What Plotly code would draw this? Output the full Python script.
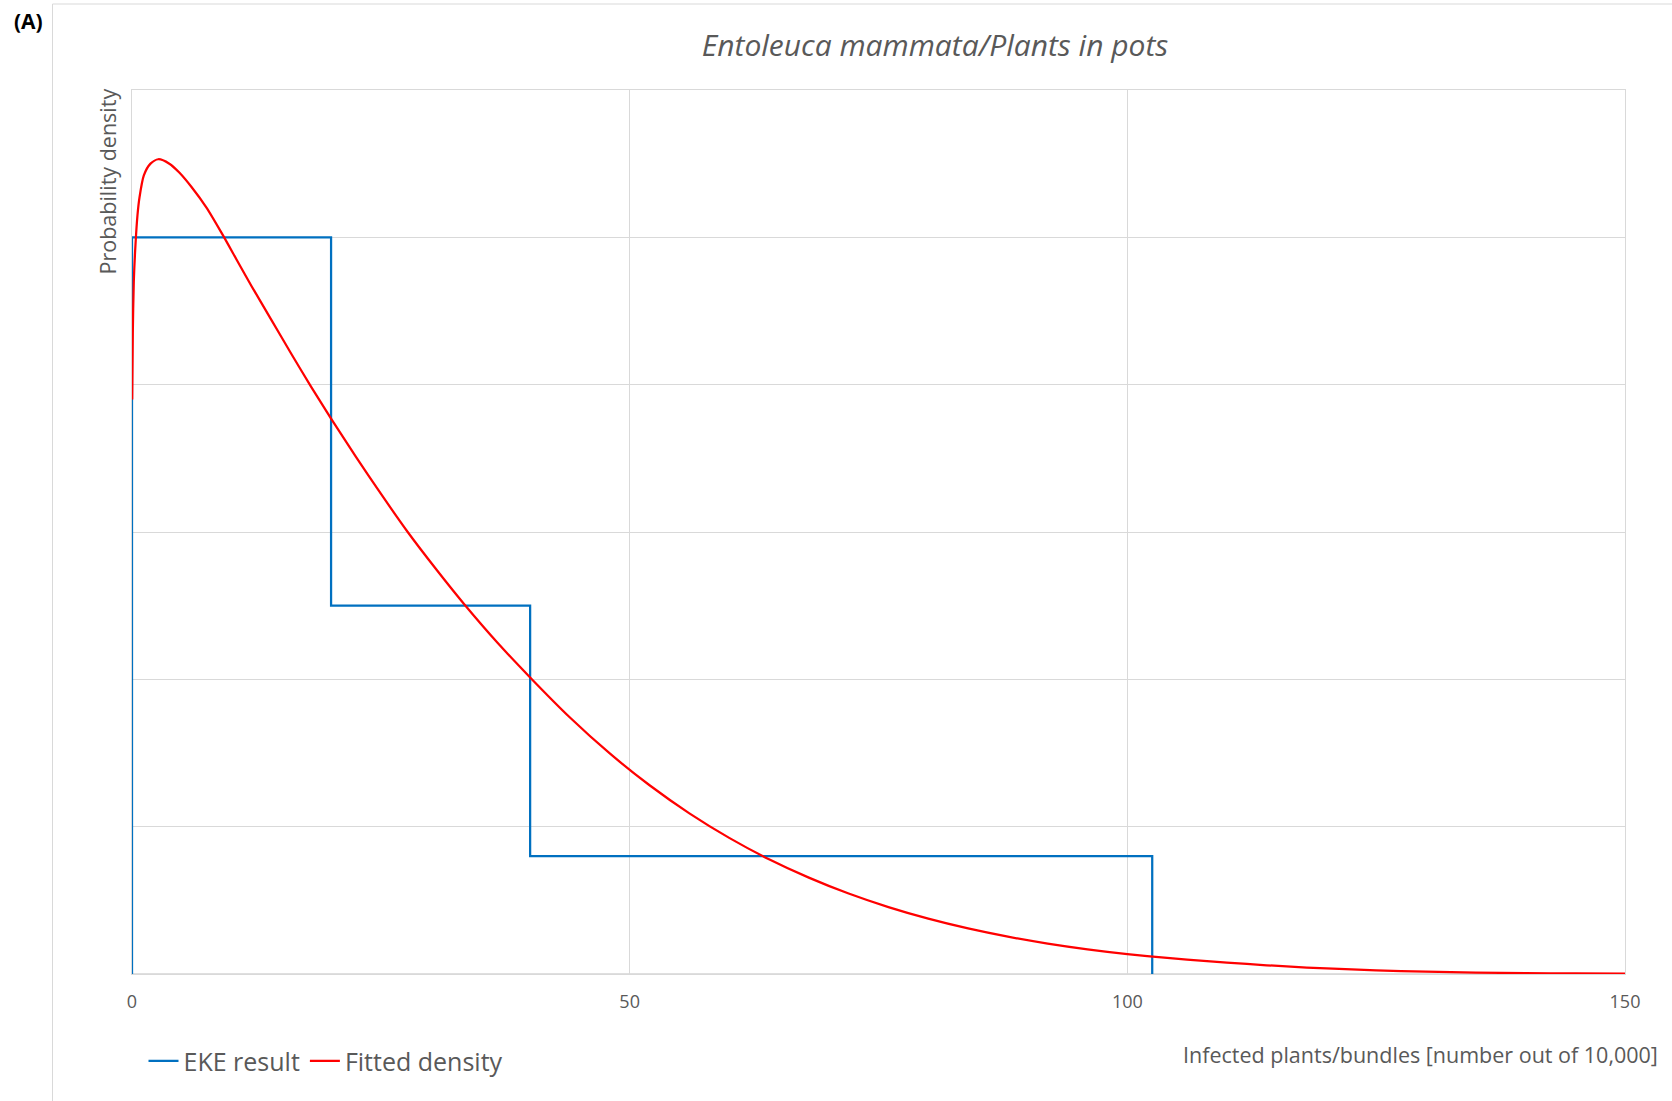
import plotly.graph_objects as go

# EKE result: step density (bin edges and densities)
eke_edges = [0, 20, 40, 102.5]
eke_density = [0.025, 0.0125, 0.004]

# Fitted density curve
fit_x = [0.02, 0.08, 0.18, 0.35, 0.55, 0.75, 1.19, 1.86, 2.64, 3.75, 4.75, 6, 7.5, 9,
         10.5, 12, 14, 16, 18, 20, 22.5, 25, 27.7, 30.5, 33.4, 36.7, 40, 44, 48, 52,
         56, 60, 64, 68, 72, 76, 80, 84, 88, 92, 96, 100, 104, 108, 112, 116, 120,
         125, 130, 135, 140, 145, 150]
fit_y = [0.0195, 0.02175, 0.0235, 0.02475, 0.02575, 0.02635, 0.0271, 0.0275, 0.02765,
         0.0275, 0.0272, 0.0267, 0.026, 0.02515, 0.02425, 0.02335, 0.0222, 0.02105,
         0.019925, 0.01885, 0.01755, 0.0163, 0.015, 0.01376, 0.01254, 0.01125, 0.010065,
         0.008705, 0.007485, 0.006405, 0.0054525, 0.00462, 0.003895, 0.00327, 0.00273,
         0.00227, 0.0018785, 0.0015465, 0.0012675, 0.0010335, 0.0008385, 0.000675,
         0.0005445, 0.0004355, 0.00034, 0.000255, 0.00019, 0.000125, 0.00008, 0.00005,
         0.0000315, 0.00002, 0.0000125]

x_ticks = [0, 50, 100, 150]
y_grid = [0, 0.005, 0.01, 0.015, 0.02, 0.025, 0.03]

title_text = "Entoleuca mammata/Plants in pots"
x_title = "Infected plants/bundles [number out of 10,000]"
y_title = "Probability density"
panel_label = "(A)"

# build step outline from edges/densities
step_x = [eke_edges[0]]
step_y = [0]
for i, d in enumerate(eke_density):
    step_x += [eke_edges[i], eke_edges[i + 1]]
    step_y += [d, d]
step_x.append(eke_edges[-1])
step_y.append(0)

W, H = 1672, 1101
L, R, T, B = 131.5, 47, 90, 127
pw, ph = W - L - R, H - T - B

def px_x(p):
    return (p - L) / pw

def px_y(p):
    return (H - B - p) / ph

FONT = "Open Sans"
GREY = "#595959"

fig = go.Figure()
fig.add_trace(go.Scatter(x=step_x, y=step_y, mode="lines", name="EKE result",
                         line=dict(color="#0070C0", width=2.25)))
fig.add_trace(go.Scatter(x=fit_x, y=fit_y, mode="lines", name="Fitted density",
                         line=dict(color="#FF0000", width=2.25, shape="spline", smoothing=0.7)))

fig.update_layout(
    width=W, height=H,
    margin=dict(l=L, r=R, t=T, b=B, pad=0),
    paper_bgcolor="white", plot_bgcolor="white",
    font=dict(family=FONT, color=GREY),
    title=dict(text=f"<i>{title_text}</i>", x=935 / W, xanchor="center",
               y=1 - 45 / H, yanchor="middle", font=dict(size=30, color=GREY, family=FONT)),
    showlegend=True,
    legend=dict(orientation="h", x=px_x(143), xanchor="left", y=px_y(1061), yanchor="middle",
                font=dict(size=25, color=GREY, family=FONT), bgcolor="rgba(0,0,0,0)",
                itemwidth=30, tracegroupgap=0),
    xaxis=dict(range=[0, 150], tickvals=x_ticks, ticktext=[str(v) for v in x_ticks],
               showgrid=True, gridcolor="#d9d9d9", gridwidth=1, zeroline=False,
               showline=True, linecolor="#d9d9d9", linewidth=1, mirror=True,
               ticks="", ticklabelstandoff=11,
               tickfont=dict(size=18, color=GREY, family=FONT)),
    yaxis=dict(range=[0, 0.03], tickvals=y_grid, showticklabels=False,
               showgrid=True, gridcolor="#d9d9d9", gridwidth=1, zeroline=False,
               showline=True, linecolor="#d9d9d9", linewidth=1, mirror=True, ticks=""),
)

# bottom axis line slightly darker
fig.add_shape(type="line", xref="paper", yref="paper", x0=0, x1=1, y0=0, y1=0,
              line=dict(color="#bfbfbf", width=1), layer="below")
# chart-area border (left and top)
fig.add_shape(type="line", xref="paper", yref="paper", x0=px_x(52), x1=px_x(52),
              y0=px_y(4), y1=px_y(H + 5), line=dict(color="#d9d9d9", width=1))
fig.add_shape(type="line", xref="paper", yref="paper", x0=px_x(52), x1=px_x(W + 5),
              y0=px_y(4), y1=px_y(4), line=dict(color="#d9d9d9", width=1))

fig.add_annotation(text=y_title, xref="paper", yref="paper", x=px_x(106), y=px_y(87),
                   xanchor="center", yanchor="top", textangle=-90, showarrow=False,
                   font=dict(size=21.5, color=GREY, family=FONT))
fig.add_annotation(text=x_title, xref="paper", yref="paper", x=px_x(1660), y=px_y(1054),
                   xanchor="right", yanchor="middle", showarrow=False,
                   font=dict(size=21.5, color=GREY, family=FONT))
fig.add_annotation(text=f"<b>{panel_label}</b>", xref="paper", yref="paper", x=px_x(28), y=px_y(21),
                   xanchor="center", yanchor="middle", showarrow=False,
                   font=dict(size=21, color="black", family=FONT))

fig.write_html("out.html", config={"displayModeBar": False},
               post_script="document.body.style.margin='0';")
